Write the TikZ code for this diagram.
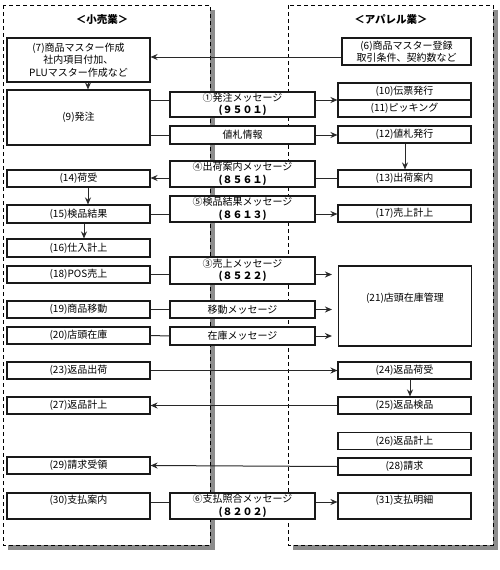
\documentclass[tikz,border=0pt]{standalone}
\usepackage{fontspec}
\setmainfont{Noto Sans CJK JP}
\usetikzlibrary{arrows.meta}
\definecolor{shade}{RGB}{140,140,140}
\definecolor{conn}{RGB}{40,40,40}
\tikzset{
  lane/.style={draw=black, fill=white, dash pattern=on 4pt off 3pt, line width=0.7pt},
  laneshadow/.style={fill=shade, draw=none},
  box/.style={draw=black!90, fill=white, line width=1.1pt, inner sep=0pt, align=center,
    font=\fontsize{10}{12.5}\selectfont},
  lbox/.style={box, minimum width=143pt},
  rbox/.style={box, minimum width=133pt},
  mbox/.style={box, minimum width=145pt},
  ttl/.style={font=\fontsize{10.5}{12}\selectfont\bfseries, inner sep=0pt},
  cn/.style={draw=conn, line width=1pt},
  ar/.style={cn, -{Stealth[length=7pt,width=6pt]}},
}
\newcommand{\cd}[1]{{\bfseries #1}}
\begin{document}
\begin{tikzpicture}[x=1pt,y=-1pt]
\useasboundingbox (0,0) rectangle (500,570);
% lanes
\fill[laneshadow] (8,10) rectangle (215,550);
\draw[lane] (3,5) rectangle (210,545);
\fill[laneshadow] (293,10) rectangle (498,550);
\draw[lane] (288,5) rectangle (493,545);
\node[ttl] (t1) at (102,20) {＜小売業＞};
\node[ttl] (t2) at (391,20) {＜アパレル業＞};
% y levels
\coordinate (y57) at (0,57);
\coordinate (y100) at (0,100);
\coordinate (y135) at (0,135);
\coordinate (y178) at (0,178);
\coordinate (y214) at (0,214);
\coordinate (y274) at (0,274.5);
\coordinate (y502) at (0,502);
\coordinate (x88) at (88,0);
\coordinate (x84) at (84,0);
\coordinate (x405) at (405,0);
\coordinate (x410) at (410,0);
% left boxes
\node[lbox, minimum height=44pt] (n7) at (78.5,60) {(7)商品マスター作成\\社内項目付加、\\PLUマスター作成など};
\node[lbox, minimum height=55pt] (n9) at (78.5,117.5) {(9)発注};
\node[lbox, minimum height=17pt] (n14) at (78.5,178.5) {(14)荷受};
\node[lbox, minimum height=18pt] (n15) at (78.5,214) {(15)検品結果};
\node[lbox, minimum height=18pt] (n16) at (78.5,248) {(16)仕入計上};
\node[lbox, minimum height=17pt] (n18) at (78.5,274.5) {(18)POS売上};
\node[lbox, minimum height=17pt] (n19) at (78.5,309.5) {(19)商品移動};
\node[lbox, minimum height=17pt] (n20) at (78.5,335.5) {(20)店頭在庫};
\node[lbox, minimum height=17pt] (n23) at (78.5,370.5) {(23)返品出荷};
\node[lbox, minimum height=17pt] (n27) at (78.5,405.5) {(27)返品計上};
\node[lbox, minimum height=17pt] (n29) at (78.5,465.5) {(29)請求受領};
\node[lbox, minimum height=26pt] (n30) at (78.5,506) {(30)支払案内\\\mbox{}};
% right boxes
\node[box, minimum width=129pt, minimum height=27pt] (n6) at (406.5,51.5) {(6)商品マスター登録\\取引条件、契約数など};
\node[rbox, minimum height=17pt] (n10) at (404.5,91.5) {(10)伝票発行};
\node[rbox, minimum height=17pt] (n11) at (404.5,108.5) {(11)ピッキング};
\node[rbox, minimum height=17pt] (n12) at (404.5,134.5) {(12)値札発行};
\node[rbox, minimum height=17pt] (n13) at (404.5,178.5) {(13)出荷案内};
\node[rbox, minimum height=17pt] (n17) at (404.5,213.5) {(17)売上計上};
\node[rbox, minimum height=80pt] (n21) at (405,306) {(21)店頭在庫管理\\[4pt]\mbox{}};
\node[rbox, minimum height=17pt] (n24) at (404.5,370.5) {(24)返品荷受};
\node[rbox, minimum height=17pt] (n25) at (404.5,405.5) {(25)返品検品};
\node[rbox, minimum height=17pt] (n26) at (404.5,441) {(26)返品計上};
\node[rbox, minimum height=17pt] (n28) at (404.5,466.5) {(28)請求};
\node[rbox, minimum height=26pt] (n31) at (404.5,506) {(31)支払明細\\\mbox{}};
% message boxes
\node[mbox, minimum height=25pt] (m1) at (242.5,104.5) {①発注メッセージ\\\cd{(９５０１)}};
\node[mbox, minimum height=18pt] (mp) at (242.5,135) {値札情報};
\node[mbox, minimum height=26pt] (m4) at (242.5,174) {④出荷案内メッセージ\\\cd{(８５６１)}};
\node[mbox, minimum height=26pt] (m5) at (242.5,209) {⑤検品結果メッセージ\\\cd{(８６１３)}};
\node[mbox, minimum height=27pt] (m3) at (242.5,270.5) {③売上メッセージ\\\cd{(８５２２)}};
\node[mbox, minimum height=17pt] (mm) at (242.5,309.5) {移動メッセージ};
\node[mbox, minimum height=18pt] (mz) at (242.5,336) {在庫メッセージ};
\node[mbox, minimum height=26pt] (m6) at (242.5,506) {⑥支払照合メッセージ\\\cd{(８２０２)}};
% connectors
\draw[ar] (n6.west |- y57) -- (n7.east |- y57);
\draw[ar] (n7.south -| x88) -- (n9.north -| x88);
\draw[cn] (n9.east |- y100) -- (m1.west |- y100);
\draw[ar] (m1.east |- y100) -- (n10.west |- y100);
\draw[cn] (n9.east |- y135) -- (mp.west |- y135);
\draw[ar] (mp.east |- y135) -- (n12.west |- y135);
\draw[ar] (n12.south -| x405) -- (n13.north -| x405);
\draw[cn] (n13.west |- y178) -- (m4.east |- y178);
\draw[ar] (m4.west |- y178) -- (n14.east |- y178);
\draw[ar] (n14.south -| x88) -- (n15.north -| x88);
\draw[cn] (n15.east |- y214) -- (m5.west |- y214);
\draw[ar] (m5.east |- y214) -- (n17.west |- y214);
\draw[ar] (n15.south -| x84) -- (n16.north -| x84);
\draw[cn] (n18.east |- y274) -- (m3.west |- y274);
\draw[ar] (m3.east |- y274) -- ([xshift=-6pt]n21.west |- y274);
\draw[cn] (n19.east) -- (mm.west);
\draw[ar] (mm.east) -- ([xshift=-6pt]n21.west |- mm.east);
\draw[cn] (n20.east) -- (mz.west);
\draw[ar] (mz.east) -- ([xshift=-6pt]n21.west |- mz.east);
\draw[ar] (n23.east) -- (n24.west);
\draw[ar] (n24.south -| x410) -- (n25.north -| x410);
\draw[ar] (n25.west) -- (n27.east);
\draw[ar] (n28.west) -- (n29.east);
\draw[cn] (n30.east |- y502) -- (m6.west |- y502);
\draw[ar] (m6.east |- y502) -- (n31.west |- y502);
\end{tikzpicture}
\end{document}
